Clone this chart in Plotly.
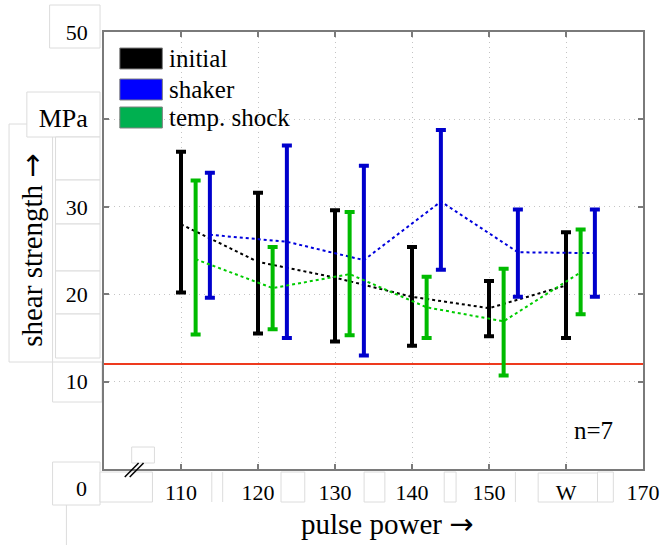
import plotly.graph_objects as go

# ---- data -------------------------------------------------------------
power = [110, 120, 130, 140, 150, 160]
x_tick_vals = [110, 120, 130, 140, 150, 160, 170]
x_tick_text = ["110", "120", "130", "140", "150", "W", "170"]
y_tick_vals = [10, 20, 30, 40, 50]
y_tick_text = ["10", "20", "30", "MPa", "50"]

initial_mean = [28.0, 23.7, 21.9, 19.7, 18.4, 21.0]
initial_low = [20.2, 15.5, 14.6, 14.1, 15.2, 15.0]
initial_high = [36.3, 31.6, 29.6, 25.4, 21.5, 27.1]

shaker_mean = [26.8, 26.0, 23.9, 30.6, 24.8, 24.7]
shaker_low = [19.6, 15.0, 13.0, 22.8, 19.7, 19.7]
shaker_high = [33.9, 37.0, 34.7, 38.8, 29.7, 29.7]

shock_mean = [24.0, 20.7, 22.3, 18.5, 16.9, 22.5]
shock_low = [15.4, 16.0, 15.3, 15.0, 10.7, 17.7]
shock_high = [33.0, 25.4, 29.4, 22.0, 22.9, 27.4]

threshold = 12.0
sample_size = "n=7"

# ---- styling -----------------------------------------------------------
W, H = 672, 545
L, R, T, B = 104, 23, 32, 76
FONT = "Liberation Serif, serif"
ARROW = '<span style="font-family:DejaVu Sans">→</span>'

series = [
    # name, mean, low, high, x offset, bar colour, line colour, legend colour
    ("initial", initial_mean, initial_low, initial_high, 0.0, "#000000", "#000000", "#000000"),
    ("shaker", shaker_mean, shaker_low, shaker_high, 3.75, "#0000CC", "#0000DD", "#0000FF"),
    ("temp. shock", shock_mean, shock_low, shock_high, 1.9, "#00BB00", "#00CC00", "#00B050"),
]


def px_x(p):
    return (p - L) / (W - L - R)


def px_y(p):
    return (H - B - p) / (H - T - B)


fig = go.Figure()

for name, mean, low, high, off, bar_c, line_c, _ in series:
    fig.add_trace(go.Scatter(
        x=[p + off for p in power],
        y=mean,
        mode="lines",
        name=name,
        line=dict(color=line_c, width=2, dash="dot"),
        error_y=dict(
            type="data",
            symmetric=False,
            array=[h - m for h, m in zip(high, mean)],
            arrayminus=[m - lo for m, lo in zip(mean, low)],
            color=bar_c,
            thickness=4,
            width=5,
        ),
        showlegend=False,
        hoverinfo="skip",
    ))

shapes = []

# faint label frames around the tick labels
frame_c = "#dcdcdc"
frames = [
    (8, 124, 52, 362),
    (49, 5, 100, 48),
    (26, 92, 100, 137),
    (55, 137, 100, 180),
    (55, 180, 100, 224),
    (55, 224, 100, 271),
    (55, 271, 100, 314),
    (55, 314, 100, 358),
    (52, 362, 102, 402),
    (52, 462, 100, 505),
    (132, 447, 155, 463),
    (122, 477, 146, 494),
    (100, 472, 153, 502),
    (283, 472, 307, 502),
    (367, 472, 388, 502),
    (448, 472, 460, 502),
    (543, 473, 603, 502),
    (603, 472, 619, 502),
]
for x0, y0, x1, y1 in frames:
    shapes.append(dict(type="rect", xref="paper", yref="paper", layer="below",
                       x0=px_x(x0), x1=px_x(x1), y0=px_y(y1), y1=px_y(y0),
                       line=dict(color=frame_c, width=1), fillcolor="white"))
for xs in [153, 213, 224, 520]:
    shapes.append(dict(type="line", xref="paper", yref="paper", layer="below",
                       x0=px_x(xs), x1=px_x(xs), y0=px_y(472), y1=px_y(502),
                       line=dict(color=frame_c, width=1)))
shapes.append(dict(type="line", xref="paper", yref="paper", layer="below",
                   x0=px_x(66), x1=px_x(66), y0=px_y(505), y1=px_y(545),
                   line=dict(color=frame_c, width=1)))

# threshold line
shapes.append(dict(type="line", xref="paper", yref="y", x0=0, x1=1,
                   y0=threshold, y1=threshold, layer="below",
                   line=dict(color="#EE3A1E", width=2)))

# axis break marks
for dx in (0, 5):
    shapes.append(dict(type="line", xref="paper", yref="paper",
                       x0=px_x(125 + dx), y0=px_y(477), x1=px_x(139 + dx), y1=px_y(463),
                       line=dict(color="black", width=1.5)))

annotations = []

# legend swatches and labels
legend_rows = [58.5, 89.5, 117.5]
for (name, *_rest), yc in zip(series, legend_rows):
    swatch = _rest[-1]
    shapes.append(dict(type="rect", xref="paper", yref="paper",
                       x0=px_x(120), x1=px_x(163), y0=px_y(yc + 10.5), y1=px_y(yc - 10.5),
                       fillcolor=swatch, line=dict(color="#808080", width=1)))
    annotations.append(dict(xref="paper", yref="paper", x=px_x(168), y=px_y(yc),
                            text=name, showarrow=False, xanchor="left", yanchor="middle",
                            font=dict(family=FONT, size=25, color="black")))

annotations += [
    dict(xref="paper", yref="paper", x=px_x(89), y=px_y(488), text="0",
         showarrow=False, xanchor="right", yanchor="middle",
         font=dict(family=FONT, size=22, color="black")),
    dict(xref="paper", yref="paper", x=px_x(391), y=px_y(524),
         text="pulse power " + ARROW,
         showarrow=False, xanchor="center", yanchor="middle",
         font=dict(family=FONT, size=29, color="black")),
    dict(xref="paper", yref="paper", x=px_x(31), y=px_y(250),
         text="shear strength " + ARROW,
         showarrow=False, xanchor="center", yanchor="middle", textangle=-90,
         font=dict(family=FONT, size=29, color="black")),
    dict(xref="paper", yref="paper", x=px_x(599), y=px_y(430), text=sample_size,
         showarrow=False, xanchor="center", yanchor="middle",
         font=dict(family=FONT, size=25, color="black")),
]

# the unit label sits in the tick column, set a little larger than the numbers
y_tick_labels = [
    f'<span style="font-size:26px">{t}</span>' if t == "MPa" else t
    for t in y_tick_text
]

axis_common = dict(
    showline=True, linecolor="#7a7a7a", linewidth=1.5, mirror="ticks",
    ticks="inside", ticklen=5, tickcolor="#7a7a7a", tickwidth=1.5,
    showgrid=True, gridcolor="#c4c4c4", gridwidth=1, griddash="1px,4px",
    zeroline=False,
    tickfont=dict(family=FONT, size=22, color="black"),
)

fig.update_layout(
    width=W, height=H,
    margin=dict(l=L, r=R, t=T, b=B, pad=0),
    paper_bgcolor="white", plot_bgcolor="white",
    showlegend=False,
    font=dict(family=FONT),
    xaxis=dict(range=[100, 170], tickvals=x_tick_vals, ticktext=x_tick_text,
               ticklabelstandoff=3, **axis_common),
    yaxis=dict(range=[0, 50], tickvals=y_tick_vals, ticktext=y_tick_labels,
               ticklabelstandoff=10, **axis_common),
    shapes=shapes,
    annotations=annotations,
)

fig.write_html("out.html")
